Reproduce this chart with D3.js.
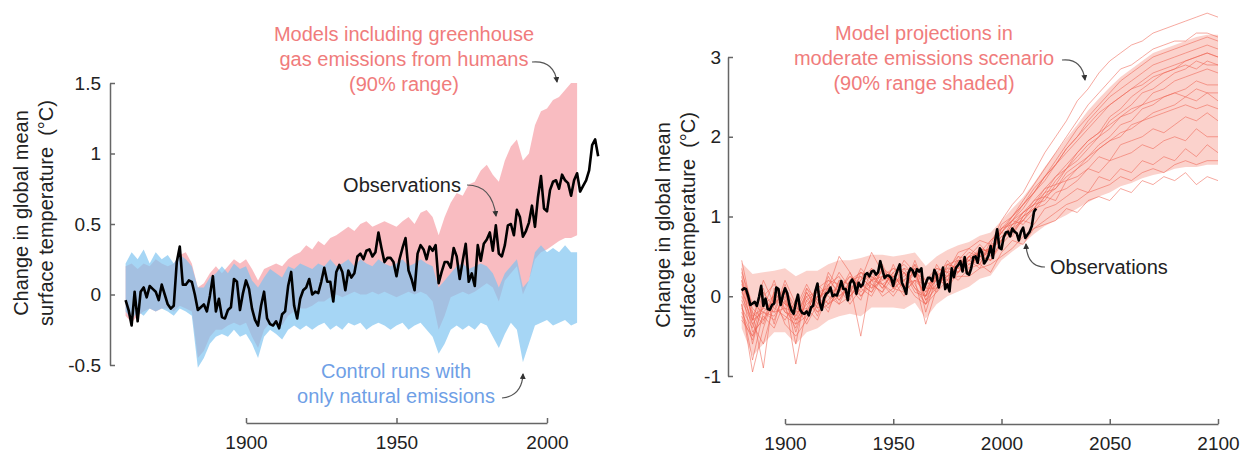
<!DOCTYPE html>
<html>
<head>
<meta charset="utf-8">
<script src="https://cdn.jsdelivr.net/npm/d3@7"></script>
<style>
body { margin: 0; background: #fff; }
svg text { font-family: "Liberation Sans", Arial, Helvetica, sans-serif; white-space: pre; }
</style>
</head>
<body>
<svg id="chart" width="1248" height="454"></svg>
<script>

// observed global mean temperature change (deg C), one value per year from 1860
var obsStart = 1860;
var obsValues = [
  -0.04,-0.11,-0.22,0.02,-0.19,0.02,0.05,-0.02,0.06,0.04,
  0.02,-0.04,0.07,0.00,-0.07,-0.10,-0.08,0.23,0.34,0.07,
  0.07,0.10,0.09,0.00,-0.11,-0.09,-0.07,-0.12,-0.01,0.13,
  -0.12,-0.03,-0.16,-0.17,-0.11,-0.09,0.11,0.09,-0.11,0.01,
  0.10,0.04,-0.10,-0.18,-0.22,-0.08,0.02,-0.17,-0.21,-0.22,
  -0.19,-0.24,-0.14,-0.12,0.06,0.16,-0.08,-0.17,-0.03,0.03,
  0.05,0.11,0.00,0.02,0.01,0.09,0.19,0.09,0.09,-0.05,
  0.16,0.21,0.16,0.03,0.17,0.12,0.15,0.27,0.29,0.25,
  0.31,0.32,0.27,0.30,0.44,0.33,0.23,0.26,0.26,0.23,
  0.13,0.25,0.33,0.40,0.17,0.11,0.03,0.29,0.35,0.32,
  0.25,0.34,0.31,0.35,0.08,0.16,0.23,0.23,0.19,0.33,
  0.27,0.11,0.24,0.36,0.09,0.15,0.06,0.35,0.24,0.36,
  0.39,0.44,0.31,0.49,0.29,0.27,0.35,0.49,0.50,0.42,
  0.60,0.55,0.41,0.45,0.51,0.63,0.48,0.69,0.84,0.61,
  0.59,0.74,0.80,0.81,0.75,0.85,0.81,0.79,0.70,0.81,
  0.86,0.73,0.77,0.81,0.88,1.06,1.10,0.98
];

// left panel bands, every 2 years from 1860 to 2010
var bandStart = 1860, bandStep = 2;
var ghgHi = [0.20,0.22,0.18,0.22,0.20,0.25,0.22,0.20,0.22,0.28,0.30,0.22,0.05,0.08,0.15,0.20,0.15,0.20,0.25,0.22,
  0.25,0.18,0.10,0.18,0.20,0.22,0.20,0.25,0.28,0.30,0.35,0.32,0.38,0.35,0.40,0.42,0.45,0.48,0.45,0.50,
  0.52,0.48,0.50,0.52,0.50,0.48,0.52,0.55,0.50,0.58,0.60,0.55,0.42,0.55,0.65,0.72,0.70,0.78,0.80,0.88,
  0.92,0.85,0.80,0.95,1.05,1.10,0.95,1.00,1.20,1.30,1.32,1.38,1.40,1.45,1.50,1.50];
var ghgLo = [-0.15,-0.20,-0.15,-0.12,-0.10,-0.12,-0.10,-0.10,-0.12,-0.08,-0.10,-0.12,-0.45,-0.40,-0.30,-0.25,-0.25,-0.22,-0.20,-0.22,
  -0.20,-0.30,-0.38,-0.25,-0.20,-0.20,-0.22,-0.15,-0.12,-0.10,-0.10,-0.08,-0.05,-0.05,-0.02,0.00,-0.02,0.00,0.02,0.00,
  0.00,0.02,0.00,0.02,0.00,-0.02,0.00,0.02,0.00,0.02,0.00,-0.05,-0.25,-0.15,-0.02,0.00,0.02,0.00,0.02,0.05,
  0.08,0.05,-0.05,0.10,0.15,0.20,0.00,0.10,0.25,0.30,0.32,0.35,0.38,0.40,0.40,0.42];
var natHi = [0.22,0.30,0.25,0.32,0.22,0.30,0.25,0.28,0.22,0.28,0.25,0.20,0.05,0.05,0.12,0.15,0.20,0.15,0.22,0.18,
  0.20,0.10,0.05,0.12,0.18,0.15,0.12,0.20,0.18,0.22,0.20,0.18,0.22,0.20,0.25,0.20,0.22,0.25,0.20,0.25,
  0.22,0.20,0.25,0.22,0.20,0.22,0.25,0.20,0.22,0.25,0.22,0.20,0.05,0.10,0.15,0.20,0.22,0.18,0.20,0.22,
  0.20,0.15,0.05,0.15,0.20,0.25,0.05,0.10,0.30,0.35,0.30,0.33,0.30,0.35,0.30,0.30];
var natLo = [-0.12,-0.18,-0.12,-0.15,-0.10,-0.12,-0.10,-0.12,-0.15,-0.10,-0.12,-0.15,-0.52,-0.45,-0.35,-0.30,-0.28,-0.30,-0.25,-0.30,
  -0.28,-0.35,-0.45,-0.30,-0.25,-0.28,-0.32,-0.25,-0.22,-0.25,-0.22,-0.25,-0.22,-0.20,-0.25,-0.22,-0.25,-0.20,-0.22,-0.20,
  -0.25,-0.22,-0.20,-0.22,-0.25,-0.22,-0.20,-0.25,-0.22,-0.20,-0.25,-0.30,-0.42,-0.35,-0.25,-0.22,-0.25,-0.22,-0.25,-0.20,
  -0.22,-0.30,-0.38,-0.28,-0.20,-0.25,-0.48,-0.35,-0.22,-0.20,-0.18,-0.22,-0.20,-0.18,-0.22,-0.20];

// right panel model runs, every 5 years from 1880 to 2100
var runStart = 1880, runStep = 5;
var run01 = [0.20,-0.45,-0.30,0.05,-0.15,-0.40,-0.05,-0.20,0.10,-0.05,0.15,-0.50,0.25,0.10,0.30,0.05,0.20,-0.35,0.10,0.30,0.20,0.35,0.40,0.30,0.55,0.70,0.65,0.85,0.90,0.95,1.10,1.05,1.20,1.25,1.20,1.35,1.30,1.45,1.40,1.50,1.45,1.55,1.40,1.50,1.45];
var run02 = [-0.10,-0.80,-0.20,-0.30,0.05,-0.30,-0.20,0.10,-0.10,0.20,0.05,0.25,0.10,0.35,0.15,0.30,0.10,0.00,0.30,0.15,0.45,0.30,0.60,0.45,0.65,0.80,0.95,0.90,1.10,1.15,1.25,1.35,1.30,1.50,1.45,1.60,1.55,1.70,1.65,1.75,1.70,1.85,1.75,1.90,1.80];
var run03 = [0.45,-0.20,-0.90,0.10,-0.10,-0.15,0.15,-0.10,0.20,0.05,0.30,0.00,0.20,0.40,0.10,0.35,0.30,-0.05,0.10,0.35,0.30,0.50,0.45,0.60,0.80,0.75,1.00,1.10,1.15,1.30,1.35,1.45,1.60,1.55,1.70,1.75,1.80,1.90,1.85,1.95,2.00,1.95,2.10,2.00,2.00];
var run04 = [0.00,-0.30,0.10,-0.35,0.15,-0.25,0.00,-0.25,0.15,0.25,-0.05,0.30,0.15,0.05,0.40,0.10,0.35,0.10,0.25,0.20,0.50,0.45,0.40,0.65,0.70,0.95,0.90,1.05,1.25,1.20,1.45,1.50,1.60,1.75,1.70,1.90,1.95,2.00,2.10,2.05,2.15,2.25,2.20,2.30,2.20];
var run05 = [0.15,-0.15,-0.30,-0.10,-0.30,-0.05,-0.30,0.00,-0.15,0.10,0.25,0.10,0.00,0.25,0.20,0.00,0.40,0.20,0.05,0.40,0.35,0.30,0.60,0.55,0.75,0.85,1.05,1.15,1.20,1.40,1.45,1.60,1.70,1.85,1.95,2.00,2.15,2.20,2.30,2.35,2.40,2.50,2.45,2.55,2.45];
var run06 = [-0.20,-0.50,0.00,0.15,-0.05,-0.85,-0.15,0.15,0.00,-0.10,0.20,0.30,0.25,0.15,0.05,0.30,0.15,-0.10,0.30,0.25,0.40,0.55,0.50,0.45,0.70,0.90,1.00,1.10,1.30,1.35,1.55,1.65,1.75,1.90,2.00,2.15,2.20,2.35,2.40,2.50,2.55,2.60,2.70,2.65,2.65];
var run07 = [0.10,-0.35,-0.15,-0.20,0.20,-0.10,-0.35,-0.10,0.25,0.00,0.10,0.20,0.35,0.20,0.25,0.15,0.20,0.15,0.20,0.45,0.30,0.50,0.55,0.60,0.75,0.80,1.00,1.20,1.25,1.45,1.60,1.70,1.85,2.00,2.10,2.25,2.35,2.40,2.55,2.60,2.70,2.75,2.80,2.85,2.80];
var run08 = [-0.25,-0.55,-0.10,0.00,-0.20,-0.30,0.05,-0.15,-0.05,0.15,0.00,0.15,0.30,0.10,0.30,0.40,0.25,0.00,0.15,0.25,0.45,0.40,0.50,0.60,0.70,0.90,0.95,1.15,1.35,1.40,1.60,1.75,1.90,2.00,2.20,2.30,2.40,2.55,2.60,2.70,2.80,2.85,2.95,2.90,2.90];
var run09 = [0.25,-0.30,-0.20,-0.25,0.00,-0.45,-0.05,0.05,0.10,0.50,0.30,0.05,0.20,0.30,0.15,0.25,0.35,0.05,0.35,0.30,0.35,0.50,0.65,0.50,0.85,0.90,1.05,1.15,1.30,1.50,1.60,1.80,1.95,2.05,2.25,2.35,2.50,2.60,2.70,2.80,2.85,2.95,3.00,3.05,3.00];
var run10 = [0.05,-0.20,-0.35,0.05,-0.10,-0.20,-0.15,-0.30,0.05,0.10,0.05,0.35,0.20,0.25,0.35,0.20,0.30,-0.05,0.25,0.35,0.50,0.35,0.55,0.70,0.80,1.00,1.15,1.30,1.50,1.65,1.85,2.00,2.20,2.35,2.50,2.60,2.70,2.80,2.90,2.95,3.00,3.05,3.10,3.15,3.10];
var run11 = [-0.15,-0.40,0.05,-0.15,-0.25,-0.35,0.00,0.05,-0.10,0.05,0.25,0.15,0.05,0.35,0.25,0.10,0.45,0.10,0.10,0.40,0.45,0.60,0.50,0.55,0.90,1.00,1.20,1.40,1.60,1.80,2.00,2.20,2.40,2.55,2.70,2.85,2.90,3.00,3.10,3.15,3.20,3.20,3.30,3.30,3.25];
var run12 = [0.30,-0.10,-0.20,-0.05,0.10,-0.15,-0.20,0.10,0.20,0.15,0.00,0.20,0.55,0.30,0.20,0.45,0.30,0.20,0.35,0.30,0.55,0.60,0.70,0.65,0.95,1.15,1.30,1.55,1.80,2.00,2.20,2.45,2.60,2.80,2.95,3.05,3.15,3.20,3.30,3.35,3.40,3.45,3.50,3.55,3.50];
var run13 = [-0.05,-0.35,-0.60,-0.10,0.10,-0.30,-0.10,0.00,0.05,0.30,0.10,-0.05,0.35,0.15,0.00,0.20,0.40,-0.20,0.25,0.10,0.30,0.45,0.35,0.60,0.80,0.95,1.05,1.20,1.35,1.50,1.65,1.80,1.95,2.05,2.15,2.25,2.30,2.40,2.45,2.50,2.55,2.50,2.60,2.55,2.55];
var run14 = [0.10,-0.60,-0.05,-0.20,-0.15,-0.20,0.10,-0.05,0.15,-0.05,0.20,0.25,0.10,0.20,0.35,0.30,0.05,0.00,0.40,0.20,0.40,0.50,0.40,0.70,0.85,1.00,1.15,1.30,1.45,1.65,1.80,1.95,2.10,2.25,2.40,2.50,2.60,2.70,2.80,2.85,2.90,2.95,3.00,3.05,3.00];
var run15 = [0.20,-0.25,-0.15,0.20,-0.20,-0.25,0.05,-0.20,-0.10,0.00,0.15,0.00,0.15,0.05,0.25,0.35,0.10,-0.10,0.15,0.25,0.30,0.40,0.50,0.45,0.70,0.85,0.95,1.10,1.25,1.35,1.50,1.60,1.75,1.85,1.95,2.05,2.10,2.20,2.25,2.30,2.35,2.40,2.35,2.40,2.35];
var run16 = [-0.30,-0.50,-0.25,-0.40,-0.05,-0.35,-0.25,-0.05,0.10,-0.10,0.00,0.15,0.05,0.25,0.10,0.05,0.20,0.05,0.20,0.15,0.40,0.45,0.60,0.55,0.85,0.95,1.15,1.35,1.50,1.70,1.90,2.10,2.25,2.40,2.55,2.70,2.80,2.90,3.00,3.05,3.10,3.15,3.20,3.25,3.20];
var run17 = [0.35,-0.30,0.20,-0.10,0.05,-0.60,0.10,-0.15,0.30,0.10,-0.10,0.10,0.20,0.00,0.10,0.20,0.00,-0.10,0.05,0.20,0.25,0.25,0.35,0.40,0.50,0.60,0.75,0.85,0.95,1.05,1.15,1.20,1.30,1.35,1.40,1.50,1.45,1.55,1.60,1.55,1.65,1.70,1.65,1.70,1.70];
var run18 = [-0.10,-0.95,-0.40,0.00,-0.35,-0.50,-0.30,0.00,-0.20,0.20,0.15,0.30,0.20,0.15,0.25,0.10,0.30,0.00,0.30,0.40,0.35,0.45,0.55,0.60,0.80,0.95,1.10,1.30,1.50,1.65,1.85,2.00,2.15,2.30,2.40,2.50,2.60,2.65,2.75,2.80,2.85,2.90,2.85,2.95,2.90];
var runs = [run01, run02, run03, run04, run05, run06, run07, run08, run09,
            run10, run11, run12, run13, run14, run15, run16, run17, run18];

// 90% range of the projections, same years
var projHi = [0.42,0.28,0.30,0.32,0.35,0.25,0.32,0.32,0.40,0.45,0.45,0.48,0.52,0.52,0.50,0.52,0.55,0.38,0.50,0.58,0.64,0.68,0.76,0.80,0.95,1.10,1.24,1.42,1.62,1.80,1.98,2.15,2.33,2.48,2.62,2.75,2.85,2.95,3.05,3.10,3.15,3.20,3.25,3.28,3.28];
var projLo = [-0.40,-0.75,-0.60,-0.45,-0.45,-0.60,-0.45,-0.40,-0.30,-0.25,-0.22,-0.25,-0.14,-0.14,-0.14,-0.16,-0.08,-0.28,-0.10,0.00,0.06,0.12,0.22,0.26,0.45,0.56,0.66,0.78,0.88,0.95,1.02,1.10,1.18,1.25,1.30,1.38,1.42,1.48,1.52,1.55,1.60,1.62,1.62,1.65,1.65];

var leftTicksY = [-0.5, 0, 0.5, 1, 1.5];
var leftTicksX = [1900, 1950, 2000];
var rightTicksY = [-1, 0, 1, 2, 3];
var rightTicksX = [1900, 1950, 2000, 2050, 2100];

var pink = "#f07c7c", blue = "#6f9fe6";

var svg = d3.select("#chart");

// arrow head used by the annotations
svg.append("defs").append("marker")
    .attr("id", "head")
    .attr("viewBox", "0 0 6 6")
    .attr("refX", 5).attr("refY", 3)
    .attr("markerWidth", 5).attr("markerHeight", 5)
    .attr("orient", "auto")
  .append("path")
    .attr("d", "M0,0 L6,3 L0,6 z")
    .attr("fill", "#333");

function series(values, start, step) {
    return values.map(function(v, i) { return { year: start + i * step, value: v }; });
}

function bandRows(lo, hi, start, step) {
    return lo.map(function(v, i) { return { year: start + i * step, lo: v, hi: hi[i] }; });
}

function drawAxes(x, y, xTicks, yTicks, axisX, axisY, padY) {
    var gy = svg.append("g")
        .attr("transform", "translate(" + axisX + ",0)")
        .call(d3.axisLeft(y).tickValues(yTicks).tickFormat(String)
            .tickSizeInner(-5).tickSizeOuter(0).tickPadding(padY));
    var gx = svg.append("g")
        .attr("transform", "translate(0," + axisY + ")")
        .call(d3.axisBottom(x).tickValues(xTicks).tickFormat(String)
            .tickSizeInner(-5).tickSizeOuter(0).tickPadding(13));
    [gx, gy].forEach(function(g) {
        g.select(".domain").attr("stroke", "#666").attr("stroke-width", 1.5);
        g.selectAll(".tick line").attr("stroke", "#666").attr("stroke-width", 1.5);
        g.selectAll(".tick text").attr("fill", "#222").style("font-size", "19px");
    });
}

function yTitle(cx, cy) {
    var t = svg.append("g").attr("transform", "translate(" + cx + "," + cy + ") rotate(-90)");
    t.append("text").attr("text-anchor", "middle").attr("y", 0)
        .style("font-size", "20px").attr("fill", "#222").text("Change in global mean");
    t.append("text").attr("text-anchor", "middle").attr("y", 25)
        .style("font-size", "20px").attr("fill", "#222").text("surface temperature  (°C)");
}

function note(lines, cx, y0, color) {
    var t = svg.append("text").attr("text-anchor", "middle")
        .style("font-size", "20px").attr("fill", color);
    lines.forEach(function(s, i) {
        t.append("tspan").attr("x", cx).attr("y", y0 + i * 25).text(s);
    });
}

function arrow(x0, y0, cx, cy, x1, y1) {
    svg.append("path")
        .attr("d", "M" + x0 + "," + y0 + " Q" + cx + "," + cy + " " + x1 + "," + y1)
        .attr("fill", "none").attr("stroke", "#555").attr("stroke-width", 1.2)
        .attr("marker-end", "url(#head)");
}

// ---------- left panel ----------
var xL = d3.scaleLinear().domain([1900, 2000]).range([246, 547]);
var yL = d3.scaleLinear().domain([-0.5, 1.5]).range([365, 83]);

var areaL = d3.area()
    .x(function(d) { return xL(d.year); })
    .y0(function(d) { return yL(d.lo); })
    .y1(function(d) { return yL(d.hi); });

svg.append("path")
    .datum(bandRows(ghgLo, ghgHi, bandStart, bandStep))
    .attr("d", areaL)
    .attr("fill", "#f7a0a6").attr("fill-opacity", 0.7);

svg.append("path")
    .datum(bandRows(natLo, natHi, bandStart, bandStep))
    .attr("d", areaL)
    .attr("fill", "#7cc3f0").attr("fill-opacity", 0.68);

var lineL = d3.line()
    .x(function(d) { return xL(d.year); })
    .y(function(d) { return yL(d.value); });

svg.append("path")
    .datum(series(obsValues, obsStart, 1))
    .attr("d", lineL)
    .attr("fill", "none").attr("stroke", "#000").attr("stroke-width", 2.6)
    .attr("stroke-linejoin", "round");

drawAxes(xL, yL, leftTicksX, leftTicksY, 110, 423, 9);
yTitle(28, 213);

note(["Models including greenhouse", "gas emissions from humans", "(90% range)"], 404, 41, pink);
arrow(532, 62, 554, 60, 557, 82);

svg.append("text").attr("x", 402).attr("y", 192).attr("text-anchor", "middle")
    .style("font-size", "20px").attr("fill", "#222").text("Observations");
arrow(467, 185, 492, 185, 496, 216);

note(["Control runs with", "only natural emissions"], 396, 378, blue);
arrow(502, 398, 522, 396, 523, 374);

// ---------- right panel ----------
var xR = d3.scaleLinear().domain([1900, 2100]).range([785, 1218]);
var yR = d3.scaleLinear().domain([-1, 3]).range([376, 57]);

svg.append("path")
    .datum(bandRows(projLo, projHi, runStart, runStep))
    .attr("d", d3.area()
        .x(function(d) { return xR(d.year); })
        .y0(function(d) { return yR(d.lo); })
        .y1(function(d) { return yR(d.hi); }))
    .attr("fill", "#f7a59a").attr("fill-opacity", 0.5);

var lineR = d3.line()
    .x(function(d) { return xR(d.year); })
    .y(function(d) { return yR(d.value); });

svg.append("g").selectAll("path")
    .data(runs)
    .enter().append("path")
    .attr("d", function(r) { return lineR(series(r, runStart, runStep)); })
    .attr("fill", "none").attr("stroke", "#ef6252")
    .attr("stroke-opacity", 0.55).attr("stroke-width", 1);

svg.append("path")
    .datum(series(obsValues, obsStart, 1).filter(function(d) { return d.year >= 1880 && d.year <= 2016; }))
    .attr("d", lineR)
    .attr("fill", "none").attr("stroke", "#000").attr("stroke-width", 2.6)
    .attr("stroke-linejoin", "round");

drawAxes(xR, yR, rightTicksX, rightTicksY, 728, 424, 7);
yTitle(670, 225);

note(["Model projections in", "moderate emissions scenario", "(90% range shaded)"], 924, 40, pink);
arrow(1062, 60, 1082, 58, 1085, 80);

svg.append("text").attr("x", 1050).attr("y", 274)
    .style("font-size", "20px").attr("fill", "#222").text("Observations");
arrow(1045, 267, 1027, 267, 1026, 244);

</script>
</body>
</html>
